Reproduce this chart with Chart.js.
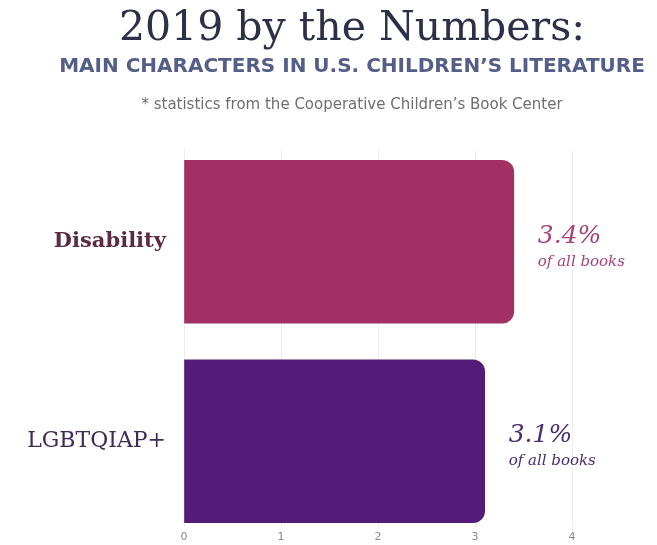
<!DOCTYPE html>
<html>
<head>
<meta charset="utf-8">
<script src="https://cdn.jsdelivr.net/npm/chart.js@4/dist/chart.umd.min.js"></script>
<style>
  html, body { margin: 0; padding: 0; background: #fff; }
  #wrap { width: 657px; height: 545px; }
</style>
</head>
<body>
<div id="wrap"><canvas id="c"></canvas></div>
<script>
// Data
const categories = ['Disability', 'LGBTQIAP+'];
const percentages = [3.4, 3.1];
const valueLabels = ['3.4%', '3.1%'];
const subLabel = 'of all books';
const xTicks = [0, 1, 2, 3, 4];

const TITLE = '2019 by the Numbers:';
const SUBTITLE = 'MAIN CHARACTERS IN U.S. CHILDREN\u2019S LITERATURE';
const NOTE = '* statistics from the Cooperative Children\u2019s Book Center';

// Colors / fonts
const BAR_COLORS = ['#a33064', '#541c79'];
const LABEL_COLORS = ['#5b2a43', '#3e2c57'];
const VALUE_COLORS = ['#a8447c', '#4b2c6e'];
const SERIF = '"DejaVu Serif", serif';
const SANS = '"DejaVu Sans", sans-serif';
const HEAD_X = 352;

// Heading block + value annotations beside each bar
const annotations = {
    id: 'annotations',
    afterDraw(chart) {
        const ctx = chart.ctx;
        ctx.save();
        ctx.textAlign = 'center';
        ctx.textBaseline = 'alphabetic';
        ctx.fillStyle = '#2d3147';
        ctx.font = '41px ' + SERIF;
        ctx.fillText(TITLE, HEAD_X, 40);
        ctx.fillStyle = '#545e87';
        ctx.font = 'bold 20px ' + SANS;
        ctx.fillText(SUBTITLE, HEAD_X, 72);
        ctx.fillStyle = '#6e6e6e';
        ctx.font = '15px ' + SANS;
        ctx.fillText(NOTE, HEAD_X, 109);

        const meta = chart.getDatasetMeta(0);
        ctx.textAlign = 'left';
        meta.data.forEach((bar, i) => {
            const x = bar.x + 24;
            ctx.fillStyle = VALUE_COLORS[i];
            ctx.font = 'italic 25px ' + SERIF;
            ctx.fillText(valueLabels[i], x, bar.y + 1);
            ctx.font = 'italic 15px ' + SERIF;
            ctx.fillText(subLabel, x, bar.y + 24);
        });
        ctx.restore();
    }
};

new Chart(document.getElementById('c'), {
    type: 'bar',
    data: {
        datasets: [{
            data: percentages.map((v, i) => ({ x: v, y: i })),
            backgroundColor: BAR_COLORS,
            borderRadius: 12,
            borderSkipped: 'start',
            barThickness: 163
        }]
    },
    options: {
        indexAxis: 'y',
        responsive: true,
        maintainAspectRatio: false,
        animation: false,
        layout: { padding: { top: 150, right: 85, bottom: 0, left: 0 } },
        plugins: {
            legend: { display: false },
            tooltip: { enabled: false }
        },
        scales: {
            x: {
                type: 'linear',
                min: 0,
                max: 4,
                afterBuildTicks: s => { s.ticks = xTicks.map(v => ({ value: v })); },
                afterFit: s => { s.height = 18; },
                ticks: {
                    color: '#8a8a8a',
                    font: { family: SANS, size: 11 },
                    padding: 4
                },
                grid: { color: 'rgba(0,0,0,0.07)', drawTicks: false },
                border: { display: false }
            },
            y: {
                type: 'linear',
                offset: false,
                reverse: true,
                min: -0.46,
                max: 1.43,
                afterBuildTicks: s => { s.ticks = categories.map((c, i) => ({ value: i })); },
                // fixed axis width; labels sit well inside, so no edge padding
                afterFit: s => { s.width = 184; s.paddingTop = 0; s.paddingBottom = 0; },
                ticks: {
                    callback: v => categories[v],
                    color: ctx => LABEL_COLORS[ctx.index],
                    font: ctx => ({ family: SERIF, size: ctx.index === 0 ? 21 : 22, weight: ctx.index === 0 ? 'bold' : 'normal' }),
                    padding: 18
                },
                grid: { display: false, drawTicks: false },
                border: { display: false }
            }
        }
    },
    plugins: [annotations]
});
</script>
</body>
</html>
